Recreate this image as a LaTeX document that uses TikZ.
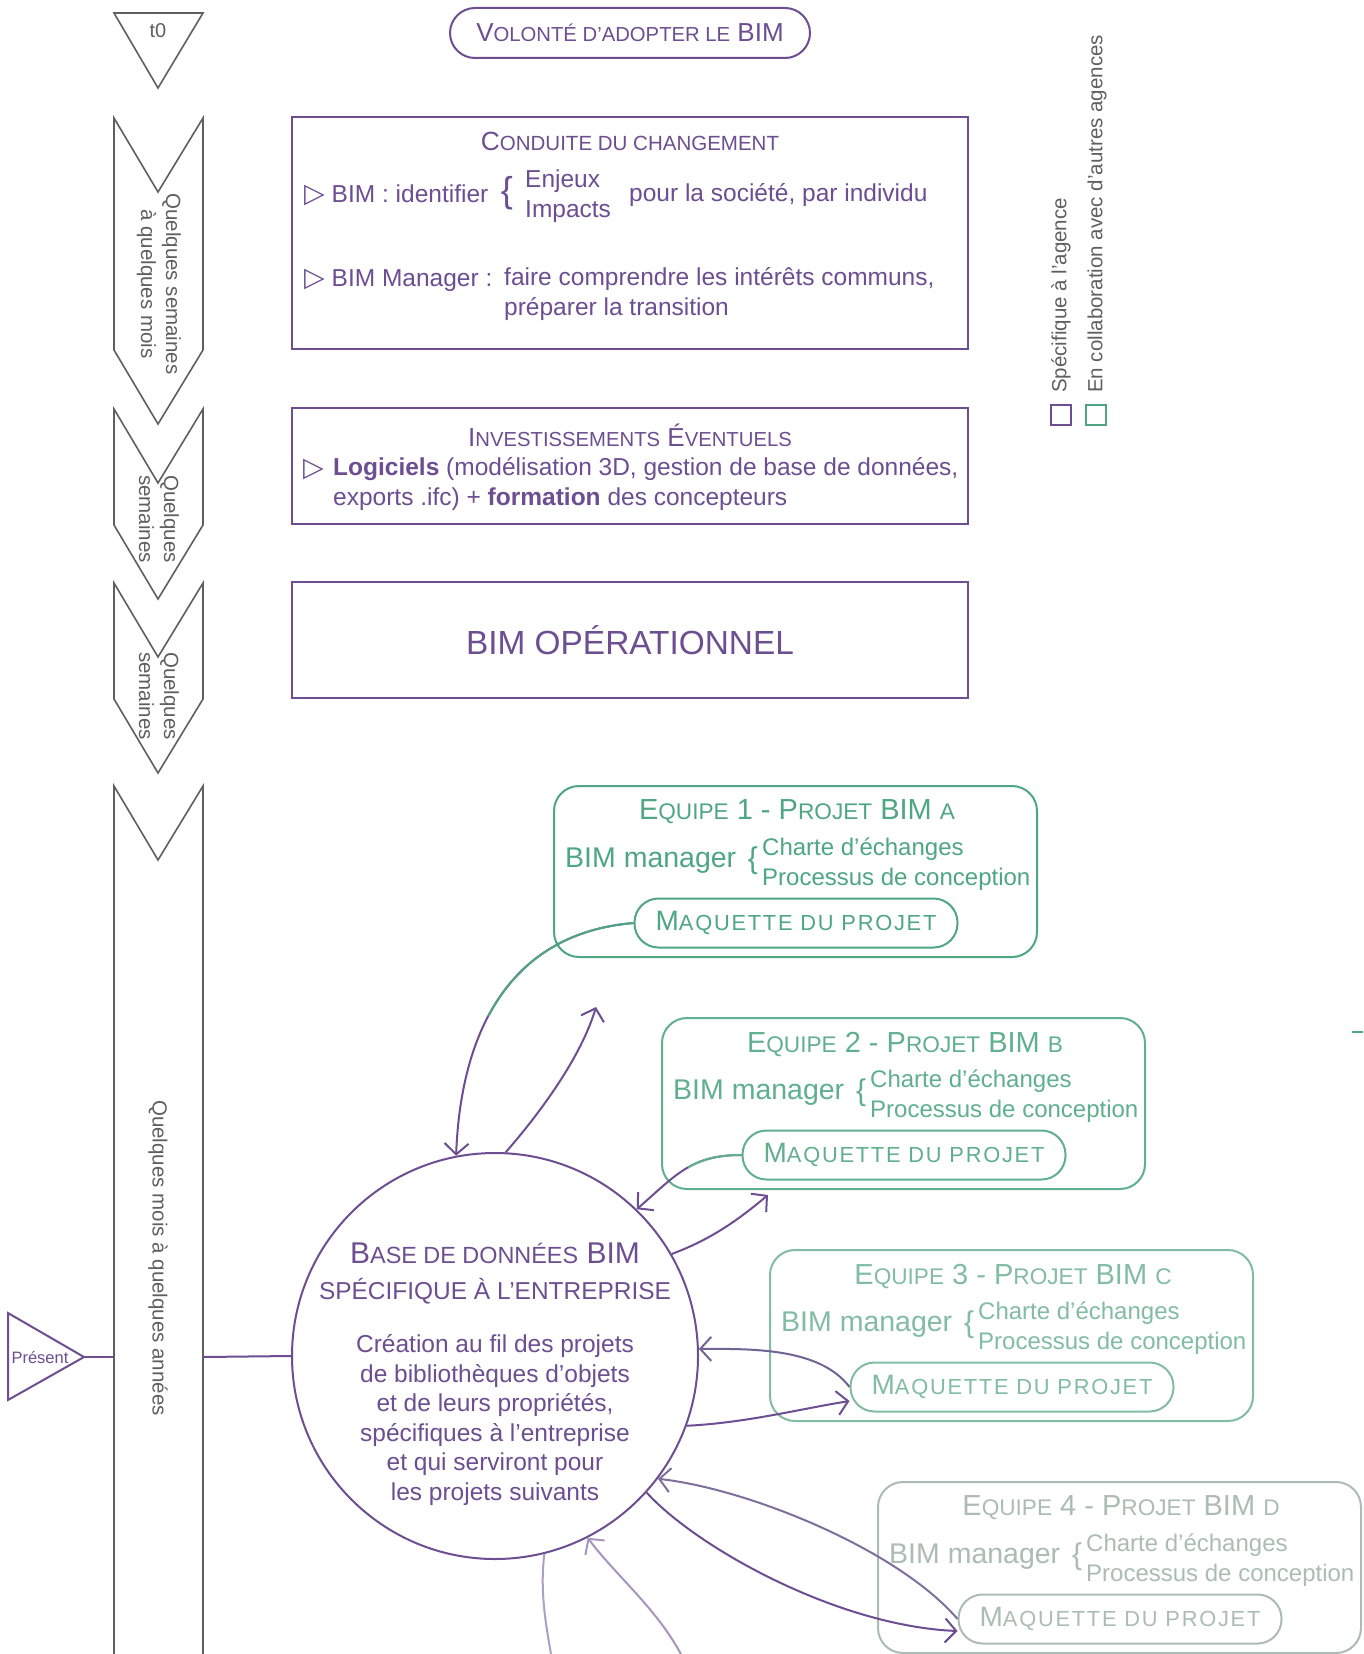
\documentclass[tikz,border=0pt]{standalone}
\usepackage{fontspec}
\setmainfont{Liberation Sans}
\newfontfamily\symfont{DejaVu Sans}
\usepackage{scalefnt}
\usetikzlibrary{arrows.meta}

\definecolor{bimviolet}{RGB}{108,78,145}
\definecolor{chevgray}{RGB}{95,95,95}
\definecolor{eqA}{RGB}{78,166,130}
\definecolor{eqB}{RGB}{96,175,142}
\definecolor{eqC}{RGB}{130,188,162}
\definecolor{eqD}{RGB}{172,188,181}

\newcommand{\lc}[1]{{\scalefont{0.78}#1}}
\newcommand{\tri}{{\symfont\scalefont{1.1}▷}}

\tikzset{
	chevron/.style={draw=chevgray, line width=1.6pt, line join=miter},
	chevtext/.style={text=chevgray, font=\fontsize{20.5}{25}\selectfont, align=center, rotate=-90},
	pbox/.style={draw=bimviolet, line width=2pt, minimum width=676pt, inner sep=0pt},
	ptext/.style={text=bimviolet, inner sep=0pt, font=\fontsize{24.5}{30}\selectfont, align=left},
	ptitle/.style={text=bimviolet, inner sep=0pt, font=\fontsize{26.3}{30}\selectfont},
	eqbox/.style={draw=#1, line width=2pt, rounded corners=25pt, minimum width=483pt, minimum height=171pt},
	eqtitle/.style={inner sep=0pt, font=\fontsize{29}{32}\selectfont},
	eqtext/.style={inner sep=0pt, font=\fontsize{28.5}{32}\selectfont},
	eqsub/.style={inner sep=0pt, font=\fontsize{24}{30}\selectfont, align=left},
	maqbox/.style={draw=#1, text=#1, line width=2pt, rounded corners=24pt, minimum width=323pt, minimum height=49pt, inner sep=0pt, font=\fontsize{28}{30}\selectfont\addfontfeature{LetterSpace=8}},
	legtext/.style={text=chevgray, inner sep=0pt, font=\fontsize{20.5}{24}\selectfont, rotate=90},
	conn/.style={line width=2pt},
	arr/.style={conn, -{Straight Barb[length=11pt,width=24pt]}},
}

\begin{document}
\begin{tikzpicture}[x=1pt, y=-1pt]
	\clip (0,0) rectangle (1363,1654);
	\fill[white] (0,0) rectangle (1363,1654);

	\draw[chevron] (114,13) -- (203,13) -- (158,88) -- cycle;
	\node[text=chevgray, font=\fontsize{20}{24}\selectfont] (t0) at (158,31) {t0};
	\foreach \t/\b in {118/424, 409/599, 583/773}
		\draw[chevron] (114,\t) -- (158,{\t+74}) -- (203,\t) -- (203,{\b-74}) -- (158,\b) -- (114,{\b-74}) -- cycle;
	\draw[chevron] (114,1664) -- (114,786) -- (158,860) -- (203,786) -- (203,1664);
	\node[chevtext] (ch1) at (159,284) {Quelques semaines\\à quelques mois};
	\node[chevtext] (ch2) at (159,519) {Quelques\\semaines};
	\node[chevtext] (ch3) at (159,696) {Quelques\\semaines};
	\node[chevtext] (ch4) at (158,1258) {Quelques mois à quelques années};
	\coordinate (ch4w) at (114,1357);
	\coordinate (ch4e) at (203,1357);

	\draw[conn, draw=bimviolet, line join=miter] (8,1313) -- (84,1357) -- (8,1400) -- cycle;
	\coordinate (pres) at (84,1357);
	\node[text=bimviolet, font=\fontsize{16.5}{20}\selectfont] (prest) at (40,1357) {Présent};

	\node[draw=bimviolet, line width=2pt, rounded corners=25pt, minimum width=360pt, minimum height=50pt, text=bimviolet, font=\fontsize{26}{30}\selectfont] (vol) at (630,33) {V\lc{OLONTÉ D’ADOPTER LE} BIM};

	\node[pbox, minimum height=232pt] (cond) at (630,233) {};
	\node[ptitle] (condt) at (630,141) {C\lc{ONDUITE DU CHANGEMENT}};
	\node[ptext, anchor=west] (bim1) at (304,195) {\tri\ BIM : identifier};
	\node[ptext, font=\fontsize{36}{36}\selectfont] (br0) at (507,193) {\{};
	\node[ptext, anchor=west] (enj) at (525,196) {Enjeux\\Impacts};
	\node[ptext, anchor=west] (pour) at (629,195) {pour la société, par individu};
	\node[ptext, anchor=west] (bim2) at (304,280) {\tri\ BIM Manager :};
	\node[ptext, anchor=west] (faire) at (504,294) {faire comprendre les intérêts communs,\\préparer la transition};

	\node[pbox, minimum height=116pt] (inv) at (630,466) {};
	\node[ptitle, font=\fontsize{26}{30}\selectfont] (invt) at (630,435) {I\lc{NVESTISSEMENTS} É\lc{VENTUELS}};
	\node[ptext, anchor=west] (tri3) at (303,469) {\tri};
	\node[ptext, anchor=west] (logi) at (333,484) {\textbf{Logiciels} (modélisation 3D, gestion de base de données,\\exports .ifc) + \textbf{formation} des concepteurs};

	\node[pbox, minimum height=116pt, text=bimviolet, font=\fontsize{33.4}{36}\selectfont] (op) at (630,640) {BIM OPÉRATIONNEL};

	\node[draw=bimviolet, line width=2pt, minimum size=20pt, inner sep=0pt] (lg1) at (1061,415) {};
	\node[draw=eqA, line width=2pt, minimum size=20pt, inner sep=0pt] (lg2) at (1096,415) {};
	\node[legtext, anchor=west] (lgt1) at (1061,393) {Spécifique à l'agence};
	\node[legtext, anchor=west] (lgt2) at (1097,393) {En collaboration avec d'autres agences};

	\foreach \k/\x/\y/\col/\lt in {1/554/786/eqA/A, 2/662/1018/eqB/B, 3/770/1250/eqC/C, 4/878/1482/eqD/D} {
		\node[eqbox=\col] (eq\k) at ({\x+241.5},{\y+85.5}) {};
		\node[eqtitle, text=\col] (eqt\k) at ({\x+243},{\y+26}) {E\lc{QUIPE} \k{} - P\lc{ROJET} BIM \lc{\lt}};
		\node[eqtext, text=\col, anchor=west] (bm\k) at ({\x+11},{\y+75}) {BIM manager};
		\node[inner sep=0pt, text=\col, font=\fontsize{30}{30}\selectfont] (br\k) at ({\x+199},{\y+75}) {\{};
		\node[eqsub, text=\col, anchor=west] (ch\k) at ({\x+208},{\y+78}) {Charte d’échanges\\Processus de conception};
		\node[maqbox=\col] (maq\k) at ({\x+242},{\y+137}) {M\lc{AQUETTE DU PROJET}};
	}

	\node[draw=bimviolet, line width=2pt, circle, minimum size=406pt, inner sep=0pt] (db) at (495,1356) {};
	\node[text=bimviolet, align=center, inner sep=0pt, font=\fontsize{30}{36}\selectfont] (dbt) at (495,1273) {B\lc{ASE DE DONNÉES} BIM\\{\scalefont{0.815}SPÉCIFIQUE À L’ENTREPRISE}};
	\node[ptext, align=center, font=\fontsize{24.5}{29.5}\selectfont] (dbb) at (495,1420) {Création au fil des projets\\de bibliothèques d’objets\\et de leurs propriétés,\\spécifiques à l’entreprise\\et qui serviront pour\\les projets suivants};

	\draw[conn, bimviolet] (pres) -- (ch4w);
	\draw[conn, bimviolet] (ch4e) -- (db.west);

	\coordinate (up1) at (596,1007);
	\coordinate (up2) at (768,1195);
	\coordinate (bot1) at (552,1660);
	\coordinate (bot2) at (684,1660);
	\coordinate (tick) at (1352,1032);

	\draw[arr, bimviolet] (maq1.west) .. controls +(-120,10) and +(5,-130) .. (db.101);
	\begin{scope}
		\clip (420,880) rectangle (700,1015);
		\draw[conn, eqA] (maq1.west) .. controls +(-120,10) and +(5,-130) .. (db.101);
	\end{scope}
	\draw[arr, bimviolet] (db.87) .. controls +(35,-40) and +(-15,50) .. (up1);
	\draw[arr, bimviolet] (maq2.west) .. controls +(-50,0) and +(40,-35) .. (db.46);
	\begin{scope}
		\clip (688,1120) rectangle (760,1200);
		\draw[conn, eqB] (maq2.west) .. controls +(-50,0) and +(40,-35) .. (db.46);
	\end{scope}
	\draw[arr, bimviolet] (db.30) .. controls +(40,-15) and +(-30,25) .. (up2);
	\draw[arr, bimviolet!80!eqC] (maq3.west) .. controls +(-30,-40) and +(50,0) .. (db.2);
	\draw[arr, bimviolet] (db.-20) .. controls +(60,-3) and +(-50,8) .. ([yshift=-14pt]maq3.west);
	\draw[arr, bimviolet!70!eqD] (maq4.west) .. controls +(-60,-70) and +(90,10) .. (db.-37);
	\draw[arr, bimviolet] (db.-42) .. controls +(50,55) and +(-120,-5) .. ([yshift=-12pt]maq4.west);
	\draw[conn, bimviolet!55!white] (db.-76) .. controls +(-5,40) and +(-5,-30) .. (bot1);
	\draw[arr, bimviolet!60!white] (bot2) .. controls +(-25,-50) and +(30,40) .. (db.-63);
	\draw[conn, eqA] (tick) -- +(12,0);
\end{tikzpicture}
\end{document}
